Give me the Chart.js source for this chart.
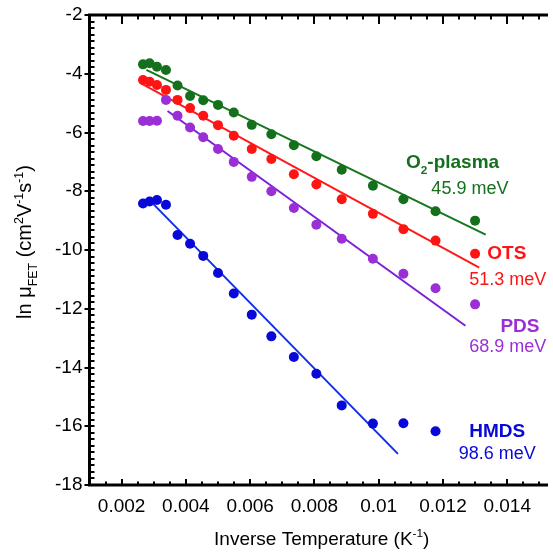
<!DOCTYPE html>
<html><head><meta charset="utf-8">
<script src="https://cdn.jsdelivr.net/npm/chart.js@4.4.1/dist/chart.umd.min.js"></script>
<style>html,body{margin:0;padding:0;background:#fff;overflow:hidden}#wrap{width:553px;height:553px;position:relative}</style>
</head><body><div id="wrap"><canvas id="c"></canvas></div>
<script>
// ---- data ----
const inverseT = [0.002665,0.00287,0.0031,0.00338,0.00374,0.00413,0.00454,0.0050,0.00549,0.00605,0.00666,0.00736,0.00806,0.00885,0.00982,0.01077,0.01177,0.0130];
const o2Plasma = [-3.68,-3.64,-3.76,-3.87,-4.40,-4.76,-4.90,-5.06,-5.32,-5.74,-6.06,-6.43,-6.81,-7.27,-7.81,-8.27,-8.68,-9.00];
const ots      = [-4.21,-4.27,-4.38,-4.55,-4.89,-5.17,-5.43,-5.75,-6.11,-6.56,-6.90,-7.42,-7.77,-8.27,-8.77,-9.29,-9.68,-10.13];
const pds      = [-5.61,-5.61,-5.60,-4.89,-5.43,-5.83,-6.16,-6.56,-7.00,-7.51,-8.00,-8.57,-9.14,-9.62,-10.30,-10.81,-11.30,-11.85];
const hmds     = [-8.42,-8.35,-8.30,-8.46,-9.49,-9.79,-10.20,-10.78,-11.48,-12.20,-12.94,-13.64,-14.21,-15.29,-15.91,-15.90,-16.17,null];
// linear fits: [x0, y0, x1, y1]
const fitO2   = [0.00277,-3.87,0.01333,-9.48];
const fitOTS  = [0.00259,-4.32,0.01313,-10.60];
const fitPDS  = [0.00343,-5.27,0.01270,-12.58];
const fitHMDS = [0.00299,-8.44,0.01060,-16.94];
const seriesNames = ['O2-plasma','OTS','PDS','HMDS'];
const energies = ['45.9 meV','51.3 meV','68.9 meV','98.6 meV'];
const xTicks = [0.002,0.004,0.006,0.008,0.010,0.012,0.014];
const xTickLabels = ['0.002','0.004','0.006','0.008','0.01','0.012','0.014'];
const yTicks = [-2,-4,-6,-8,-10,-12,-14,-16,-18];

// ---- styling ----
const COL = {
  o2:  {pt:'#14701c', ln:'#14781c'},
  ots: {pt:'#ff1414', ln:'#ff1a1a'},
  pds: {pt:'#9b2fd6', ln:'#7a20d8'},
  hm:  {pt:'#0808d8', ln:'#1030e8'}
};
const FONT = '"Liberation Sans", Arial, sans-serif';

function pts(ys){ return inverseT.map((x,i)=>({x:x,y:ys[i]})).filter(p=>p.y!==null); }
function fit(f){ return [{x:f[0],y:f[1]},{x:f[2],y:f[3]}]; }
function lineDs(f,c){ return {type:'line',data:fit(f),borderColor:c,borderWidth:2,pointRadius:0,fill:false,tension:0,order:2}; }
function ptDs(ys,c){ return {type:'scatter',data:pts(ys),backgroundColor:c,borderColor:c,pointRadius:5,pointBorderWidth:0,showLine:false,order:1}; }

// annotation anchors in data coords (left x, baseline y)
const labelPos = [
  {name:[['O','n'],['2','sub'],['-plasma','n']], nx:0.01085, ny:-7.20, ex:0.01164, ey:-8.09, c:COL.o2.pt},
  {name:[['OTS','n']], nx:0.01338, ny:-10.32, ex:0.01282, ey:-11.19, c:COL.ots.pt},
  {name:[['PDS','n']], nx:0.01379, ny:-12.80, ex:0.01282, ey:-13.48, c:COL.pds.pt},
  {name:[['HMDS','n']], nx:0.01282, ny:-16.36, ex:0.01249, ey:-17.13, c:COL.hm.pt}
];

function drawRich(ctx, segs, x, y, size, weight, align){
  const parts = segs.map(([t,m])=>{
    const s = m==='n'? size : size*0.62;
    ctx.font = weight+' '+s+'px '+FONT;
    return {t,m,s,w:ctx.measureText(t).width};
  });
  const W = parts.reduce((a,p)=>a+p.w,0);
  let cx = align==='center'? x-W/2 : x;
  for(const p of parts){
    ctx.font = weight+' '+p.s+'px '+FONT;
    let dy = 0;
    if(p.m==='sup') dy = -size*0.42;
    if(p.m==='sub') dy = size*0.32;
    ctx.fillText(p.t, cx, y+dy);
    cx += p.w;
  }
}

const axesPlugin = {
  id:'axesPlugin',
  afterDraw(chart){
    const ctx = chart.ctx, a = chart.chartArea;
    const xs = chart.scales.x, ys = chart.scales.y;
    ctx.save();
    ctx.strokeStyle = '#000'; ctx.lineCap='butt';
    ctx.lineWidth = 3;
    ctx.beginPath();
    ctx.moveTo(a.left, a.top); ctx.lineTo(a.left, a.bottom+1.5);
    ctx.moveTo(a.left-1.5, a.bottom); ctx.lineTo(a.right, a.bottom);
    ctx.moveTo(a.left-1.5, a.top); ctx.lineTo(a.right, a.top);
    ctx.stroke();
    ctx.lineWidth = 2;
    ctx.beginPath();
    for(let v=0.0015; v<0.0153; v+=0.0005){
      const px = Math.round(xs.getPixelForValue(v));
      const major = Math.abs(Math.round(v/0.002)*0.002 - v) < 1e-7;
      ctx.moveTo(px, a.bottom); ctx.lineTo(px, a.bottom - (major?6:3.5));
      ctx.moveTo(px, a.top); ctx.lineTo(px, a.top + (major?9:4.5));
    }
    for(let k=0;k<8;k++){
      const base = -18 + 2*k;
      for(let j=1;j<9;j++){
        const v = base + 2*j/9;
        const py = Math.round(ys.getPixelForValue(v));
        ctx.moveTo(a.left, py); ctx.lineTo(a.left+5, py);
      }
    }
    for(const v of yTicks){
      const py = Math.round(ys.getPixelForValue(v));
      ctx.moveTo(a.left-5, py); ctx.lineTo(a.left+5, py);
    }
    ctx.stroke();

    ctx.fillStyle = '#000'; ctx.textBaseline='alphabetic'; ctx.textAlign='left';
    drawRich(ctx, [['Inverse Temperature (K','n'],['-1','sup'],[')','n']], (a.left+a.right)/2+3, 545, 19, 'normal', 'center');
    ctx.save();
    ctx.translate(31, (a.top+a.bottom)/2 - 8);
    ctx.rotate(-Math.PI/2);
    drawRich(ctx, [['ln \u03bc','n'],['FET','sub'],[' (cm','n'],['2','sup'],['V','n'],['-1','sup'],['s','n'],['-1','sup'],[')','n']], 0, 0, 20, 'normal', 'center');
    ctx.restore();

    for(let i=0;i<labelPos.length;i++){
      const L = labelPos[i];
      ctx.fillStyle = L.c;
      drawRich(ctx, L.name, xs.getPixelForValue(L.nx), ys.getPixelForValue(L.ny), 19, 'bold', 'left');
      drawRich(ctx, [[energies[i],'n']], xs.getPixelForValue(L.ex), ys.getPixelForValue(L.ey), 18, 'normal', 'left');
    }
    ctx.restore();
  }
};

new Chart(document.getElementById('c'), {
  data:{datasets:[
    lineDs(fitO2, COL.o2.ln), lineDs(fitOTS, COL.ots.ln), lineDs(fitPDS, COL.pds.ln), lineDs(fitHMDS, COL.hm.ln),
    Object.assign(ptDs(o2Plasma, COL.o2.pt),{label:seriesNames[0]}),
    Object.assign(ptDs(ots, COL.ots.pt),{label:seriesNames[1]}),
    Object.assign(ptDs(pds, COL.pds.pt),{label:seriesNames[2]}),
    Object.assign(ptDs(hmds, COL.hm.pt),{label:seriesNames[3]})
  ]},
  options:{
    responsive:true, maintainAspectRatio:false, animation:false, devicePixelRatio:1,
    layout:{padding:{top:15,left:0,right:0,bottom:0}},
    plugins:{legend:{display:false},tooltip:{enabled:false}},
    scales:{
      x:{type:'linear',position:'bottom',min:0.001,max:0.01527,
        grid:{display:false},border:{display:false},
        afterBuildTicks:(s)=>{ s.ticks = xTicks.map(v=>({value:v})); },
        afterFit:(s)=>{ s.height = 68; },
        ticks:{color:'#000',padding:2,font:{family:FONT,size:19},maxRotation:0,autoSkip:false,
          callback:(v,i)=>xTickLabels[i]}
      },
      y:{type:'linear',position:'left',min:-18,max:-2,
        grid:{display:false},border:{display:false},
        afterBuildTicks:(s)=>{ s.ticks = yTicks.map(v=>({value:v})); },
        afterFit:(s)=>{ s.width = 89.5; },
        ticks:{color:'#000',padding:-1,font:{family:FONT,size:19},autoSkip:false,
          callback:(v)=>String(v)}
      }
    }
  },
  plugins:[axesPlugin]
});
</script></body></html>
